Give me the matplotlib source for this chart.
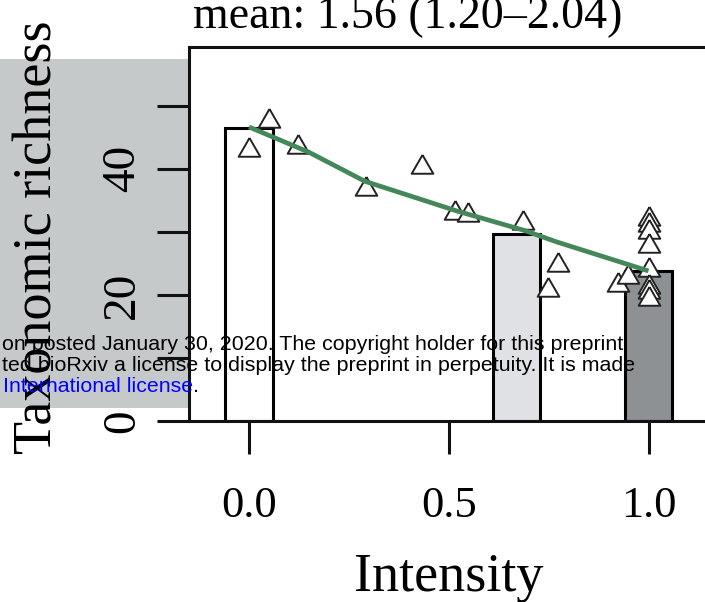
import matplotlib
matplotlib.use("Agg")
import matplotlib.pyplot as plt
from matplotlib.patches import Rectangle

# ---- data ----
bar_x = [0.0, 0.67, 1.0]
bar_heights = [46.5, 29.7, 23.8]
bar_colors = ["#ffffff", "#dfe1e4", "#8e9194"]

point_x = [0.051, 0.0, 0.123, 0.432, 0.292, 0.516, 0.549, 0.687, 0.774, 0.749,
           0.924, 0.949, 1.0, 1.0, 1.0, 1.0, 1.0, 1.0, 1.0, 1.0]
point_y = [47.6, 43.0, 43.5, 40.3, 36.8, 32.9, 32.7, 31.4, 24.8, 20.8,
           21.5, 22.9, 32.1, 31.0, 30.0, 27.7, 24.0, 21.3, 20.4, 19.3]

fit_x = [0.0, 0.15, 0.29, 0.52, 0.69, 0.77, 1.0]
fit_y = [46.6, 42.6, 38.0, 33.3, 30.2, 28.4, 23.8]

x_ticks = [0.0, 0.5, 1.0]
x_ticklabels = ["0.0", "0.5", "1.0"]
y_ticks = [0, 10, 20, 30, 40, 50]
y_ticklabels = ["0", "", "20", "", "40", ""]

title = "mean: 1.56 (1.20\u20132.04)"
xlabel = "Intensity"
ylabel = "Taxonomic richness"
wm_lines = ["on posted January 30, 2020. The copyright holder for this preprint",
            "ted bioRxiv a license to display the preprint in perpetuity. It is made"]
wm_link = "International license"

# ---- figure ----
W, H = 705, 602
fig = plt.figure(figsize=(W / 100, H / 100), dpi=100)
serif = "Liberation Serif"

# grey overlay band on the left (behind axes content)
fig.patches.append(Rectangle((0, 1 - 408 / H), 188.5 / W, (408 - 59) / H,
                             transform=fig.transFigure, facecolor="#c5c9ca",
                             edgecolor="none", zorder=-1))

left_px, right_px, top_px, bot_px = 188.5, 740.0, 47.0, 421.2
ax = fig.add_axes([left_px / W, 1 - bot_px / H, (right_px - left_px) / W,
                   (bot_px - top_px) / H])
ax.patch.set_facecolor("white")

ax.bar(bar_x, bar_heights, width=0.118, color=bar_colors, edgecolor="black",
       linewidth=2.2, zorder=2)

tri = [(0, 1), (0.866, -0.5), (-0.866, -0.5), (0, 1)]
ax.plot(point_x, point_y, linestyle="none", marker=tri, markersize=18,
        markerfacecolor="white", markeredgecolor="#222222",
        markeredgewidth=1.4, zorder=3)

ax.plot(fit_x, fit_y, color="#44875a", linewidth=3.4, zorder=4,
        solid_capstyle="butt")

ax.set_xlim((left_px - 249) / 399.5, (right_px - 249) / 399.5)
ax.set_ylim(0, (bot_px - top_px) / 6.314)

for side in ["left", "top", "bottom", "right"]:
    ax.spines[side].set_linewidth(2.2)
    ax.spines[side].set_color("#111111")

ax.set_xticks(x_ticks)
ax.set_xticklabels(x_ticklabels, fontfamily=serif, fontsize=32)
ax.set_yticks(y_ticks)
ax.set_yticklabels(y_ticklabels, fontfamily=serif, fontsize=34,
                   rotation=90, va="center")
ax.tick_params(axis="x", length=24, width=2.2, pad=23, color="#111111")
ax.tick_params(axis="y", length=23, width=2.2, pad=9, color="#111111")

fig.text(407.5 / W, 1 - 28 / H, title, ha="center", va="baseline",
         fontfamily=serif, fontsize=33)
fig.text(448.5 / W, 1 - 591 / H, xlabel, ha="center", va="baseline",
         fontfamily=serif, fontsize=39)
fig.text(52 / W, 1 - 237 / H, ylabel, ha="center", va="baseline",
         rotation=90, rotation_mode="anchor", fontfamily=serif, fontsize=39)

# watermark text overlay
sans = "Liberation Sans"
fs_wm = 15.4
fig.text(2 / W, 1 - 349.5 / H, wm_lines[0], ha="left", va="baseline",
         fontfamily=sans, fontsize=fs_wm, color="black", zorder=10)
fig.text(2 / W, 1 - 371 / H, wm_lines[1], ha="left", va="baseline",
         fontfamily=sans, fontsize=fs_wm, color="black", zorder=10)
t3 = fig.text(3 / W, 1 - 392.5 / H, wm_link, ha="left", va="baseline",
              fontfamily=sans, fontsize=fs_wm, color="#0000ff", zorder=10)
fig.canvas.draw()
bb = t3.get_window_extent()
fig.text(bb.x1 / W, 1 - 392.5 / H, ".", ha="left", va="baseline",
         fontfamily=sans, fontsize=fs_wm, color="black", zorder=10)

fig.savefig("out.png", dpi=100)
